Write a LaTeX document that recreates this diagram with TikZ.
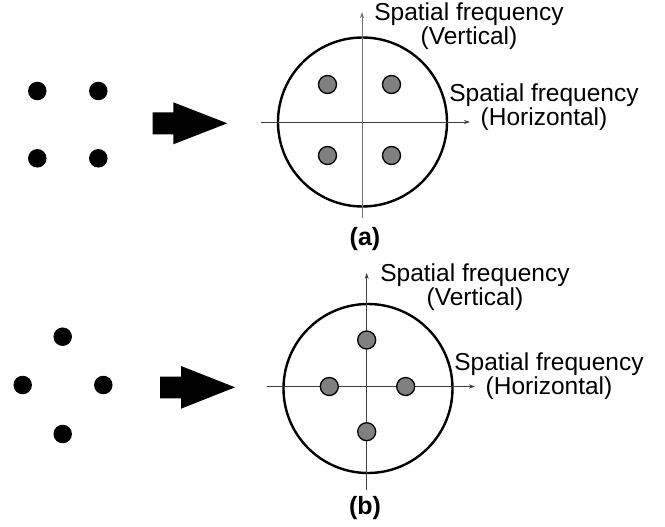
\documentclass[tikz,border=0pt]{standalone}
\usepackage{fontspec}
\setmainfont{Liberation Sans}
\usetikzlibrary{arrows.meta}
\begin{document}
\begin{tikzpicture}[x=1pt,y=-1pt,
  srcdot/.style={circle,fill=black,minimum size=18.5pt,inner sep=0pt},
  spot/.style={circle,fill=black!50,draw=black,line width=1.3pt,minimum size=18pt,inner sep=0pt},
  ring/.style={circle,draw=black,line width=2.4pt,minimum size=169pt,inner sep=0pt},
  axisline/.style={line width=0.8pt,draw=black!75,-{Stealth[length=6pt,width=4pt]}},
  lbl/.style={align=center,font=\fontsize{24.5}{22}\selectfont,inner sep=0pt},
  panel/.style={font=\bfseries\fontsize{25}{25}\selectfont,inner sep=0pt},
  blockarrow/.style={fill=black}]
\useasboundingbox (0,0) rectangle (665,527);

% ---------- panel (a) ----------
\node[srcdot] (a1) at (37.3,91) {};
\node[srcdot] (a2) at (98.3,91) {};
\node[srcdot] (a3) at (37.3,158.3) {};
\node[srcdot] (a4) at (98.3,158.3) {};
\fill[blockarrow] (152.7,112.3) -- (173.3,112.3) -- (173.3,102.3) -- (227.3,123.3)
  -- (173.3,144.3) -- (173.3,134.3) -- (152.7,134.3) -- cycle;

\node[ring] (ringa) at (362.5,122) {};
\coordinate (ahl) at (261,122);
\coordinate (ahr) at (470,122);
\coordinate (avb) at (362,218);
\coordinate (avt) at (362,12);
\draw[axisline] (ahl) -- (ahr);
\draw[axisline,draw=black!55] (avb) -- (avt);
\node[spot] (sa1) at (327.5,84.5) {};
\node[spot] (sa2) at (391.5,84.5) {};
\node[spot] (sa3) at (327.5,155.5) {};
\node[spot] (sa4) at (391.5,155.5) {};
\node[lbl] (va) at (469,26) {Spatial frequency\\(Vertical)};
\node[lbl] (ha) at (544,107.5) {Spatial frequency\\(Horizontal)};
\node[panel] (pa) at (365,239) {(a)};

% ---------- panel (b) ----------
\node[srcdot] (b1) at (62.7,336.7) {};
\node[srcdot] (b2) at (22.7,385) {};
\node[srcdot] (b3) at (103.3,385) {};
\node[srcdot] (b4) at (62.7,434) {};
\fill[blockarrow] (160,376.7) -- (181,376.7) -- (181,366) -- (235,387.3)
  -- (181,408.7) -- (181,398.3) -- (160,398.3) -- cycle;

\node[ring] (ringb) at (368,388.5) {};
\coordinate (bhl) at (266.7,386.5);
\coordinate (bhr) at (475,386.5);
\coordinate (bvb) at (366.7,490);
\coordinate (bvt) at (366.7,273);
\draw[axisline] (bhl) -- (bhr);
\draw[axisline] (bvb) -- (bvt);
\node[spot] (sb1) at (366.7,340) {};
\node[spot] (sb2) at (366.7,431.7) {};
\node[spot] (sb3) at (329.3,386.5) {};
\node[spot] (sb4) at (405.7,386.5) {};
\node[lbl] (vb) at (475,287) {Spatial frequency\\(Vertical)};
\node[lbl] (hb) at (549,376) {Spatial frequency\\(Horizontal)};
\node[panel] (pb) at (365,508) {(b)};
\end{tikzpicture}
\end{document}
